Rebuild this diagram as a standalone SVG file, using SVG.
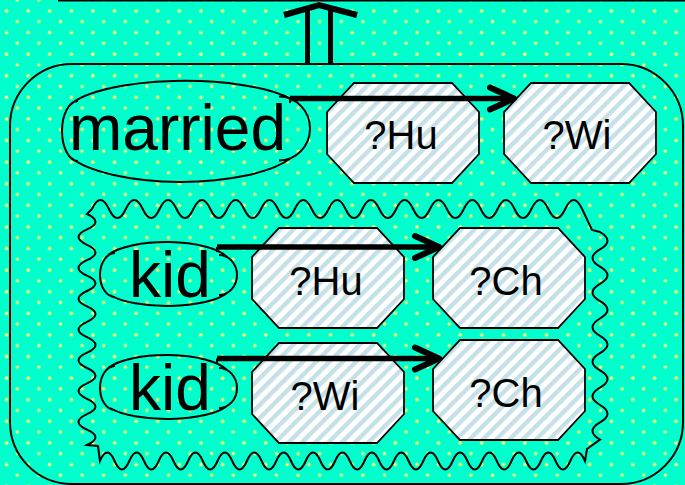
<svg xmlns="http://www.w3.org/2000/svg" width="685" height="485" viewBox="0 0 685 485">
<style>
.ln{fill:none;stroke:#000;stroke-width:2}
.oct{fill:url(#stripes);stroke:#000;stroke-width:1.8}
.cloud{fill:none;stroke:#000;stroke-width:2}
.big{font-family:"Liberation Sans",Arial,sans-serif;font-size:64px;fill:#000;text-anchor:middle}
.lbl{font-family:"Liberation Sans",Arial,sans-serif;font-size:40px;fill:#000;text-anchor:middle}
.arr{fill:none;stroke:#000;stroke-width:5.5;marker-end:url(#ah)}
.tick{fill:none;stroke:#000;stroke-width:2}
</style>
<defs>
<pattern id="dots" patternUnits="userSpaceOnUse" width="21.6" height="21.6">
<rect width="21.6" height="21.6" fill="#00FFCC"/>
<circle cx="6.5" cy="11" r="1.8" fill="#EEFF77"/>
<circle cx="17.3" cy="0" r="1.8" fill="#EEFF77"/>
<circle cx="17.3" cy="21.6" r="1.8" fill="#EEFF77"/>
</pattern>
<pattern id="stripes" patternUnits="userSpaceOnUse" width="9.4" height="9.4" patternTransform="rotate(45)">
<rect width="9.4" height="9.4" fill="#FFFFFF"/>
<rect width="4.4" height="9.4" fill="#C5E0E6"/>
</pattern>
<polygon id="oct" points="27,0 125,0 152,29 152,71 125,100 27,100 0,71 0,29"/>
<path id="kidshape" d="M -61 -20 A 64 22 0 0 1 58 -18 M 50 -20 A 18 20 0 0 1 50 20 M 58 18 A 64 20 0 0 1 -59 20 M -54 22 A 15 22 0 0 1 -54 -22"/>
<marker id="ah" markerUnits="userSpaceOnUse" markerWidth="40" markerHeight="40" viewBox="-30 -20 40 40" refX="0" refY="0" orient="auto" overflow="visible">
<path d="M -24 -11 L 0 0 L -24 11" fill="none" stroke="#000" stroke-width="6" stroke-linecap="round" stroke-linejoin="round"/>
</marker>
</defs>
<rect width="685" height="485" fill="url(#dots)"/>
<g id="context-top">
<line x1="58" y1="0" x2="685" y2="0" stroke="#000" stroke-width="3"/>
</g>
<g id="implication">
<line x1="307.5" y1="64" x2="307.5" y2="9" stroke="#000" stroke-width="5"/>
<line x1="330.5" y1="64" x2="330.5" y2="9" stroke="#000" stroke-width="5"/>
<path d="M 284 15 L 319 5 L 357 15" fill="none" stroke="#000" stroke-width="6"/>
</g>
<g id="outer-context">
<rect x="10" y="64" width="673" height="420" rx="62" ry="62" class="ln"/>
</g>
<g id="negation-context">
<path class="ln" d="M 92 209 Q 100.45 191 108.9 209 T 125.8 209 T 142.7 209 T 159.6 209 T 176.5 209 T 193.4 209 T 210.3 209 T 227.2 209 T 244.1 209 T 261 209 T 277.9 209 T 294.8 209 T 311.7 209 T 328.6 209 T 345.5 209 T 362.4 209 T 379.3 209 T 396.2 209 T 413.1 209 T 430 209 T 446.9 209 T 463.8 209 T 480.7 209 T 497.6 209 T 514.5 209 T 531.4 209 T 548.3 209 T 565.2 209 T 582.1 209 L 592 230 L 600 232 Q 615 240.65 600 249.3 T 600 266.6 T 600 283.9 T 600 301.2 T 600 318.5 T 600 335.8 T 600 353.1 T 600 370.4 T 600 387.7 T 600 405 T 600 422.3 T 600 439.6 L 587 449 L 585 461 Q 577.65 444 570.3 461 T 555.6 461 T 540.9 461 T 526.2 461 T 511.5 461 T 496.8 461 T 482.1 461 T 467.4 461 T 452.7 461 T 438 461 T 423.3 461 T 408.6 461 T 393.9 461 T 379.2 461 T 364.5 461 T 349.8 461 T 335.1 461 T 320.4 461 T 305.7 461 T 291 461 T 276.3 461 T 261.6 461 T 246.9 461 T 232.2 461 T 217.5 461 T 202.8 461 T 188.1 461 T 173.4 461 T 158.7 461 T 144 461 T 129.3 461 T 114.6 461 T 99.9 461 L 98 446 L 87 445 Q 104 437.3 87 429.6 T 87 414.2 T 87 398.8 T 87 383.4 T 87 368 T 87 352.6 T 87 337.2 T 87 321.8 T 87 306.4 T 87 291 T 87 275.6 T 87 260.2 T 87 244.8 T 87 229.4 T 87 214 Z"/>
</g>
<g id="node-hu1"><use href="#oct" class="oct" x="327" y="83"/><text class="lbl" x="401" y="149">?Hu</text></g>
<g id="node-wi1"><use href="#oct" class="oct" x="504" y="83"/><text class="lbl" x="577" y="149">?Wi</text></g>
<g id="node-hu2"><use href="#oct" class="oct" x="252" y="228"/><text class="lbl" x="326" y="295">?Hu</text></g>
<g id="node-ch1"><use href="#oct" class="oct" x="433" y="228"/><text class="lbl" x="506" y="295">?Ch</text></g>
<g id="node-wi2"><use href="#oct" class="oct" x="252" y="343"/><text class="lbl" x="325" y="410">?Wi</text></g>
<g id="node-ch2"><use href="#oct" class="oct" x="433" y="340"/><text class="lbl" x="506" y="407">?Ch</text></g>
<g id="node-married">
<path class="cloud" d="M 70 105 A 120 34 0 0 1 291 99 M 279 96.5 A 31 32 0 0 1 279 160.5 M 291 158 A 120 40 0 0 1 70 157 M 78 161 A 16 30 0 0 1 78 101"/>
<text class="big" x="177.5" y="150">married</text>
</g>
<g id="node-kid1">
<use href="#kidshape" class="cloud" x="169" y="275"/>
<text class="big" x="170" y="297">kid</text>
</g>
<g id="node-kid2">
<use href="#kidshape" class="cloud" x="169" y="388"/>
<text class="big" x="170" y="410">kid</text>
</g>
<g id="connectors">
<path class="tick" d="M 290 103 L 290 98.5"/>
<path class="arr" d="M 290 98.5 L 514 98.5"/>
<path class="tick" d="M 217 252 L 217 247"/>
<path class="arr" d="M 217 247 L 439 247"/>
<path class="tick" d="M 217 363 L 217 358.5"/>
<path class="arr" d="M 217 358.5 L 439 358.5"/>
</g>
</svg>
